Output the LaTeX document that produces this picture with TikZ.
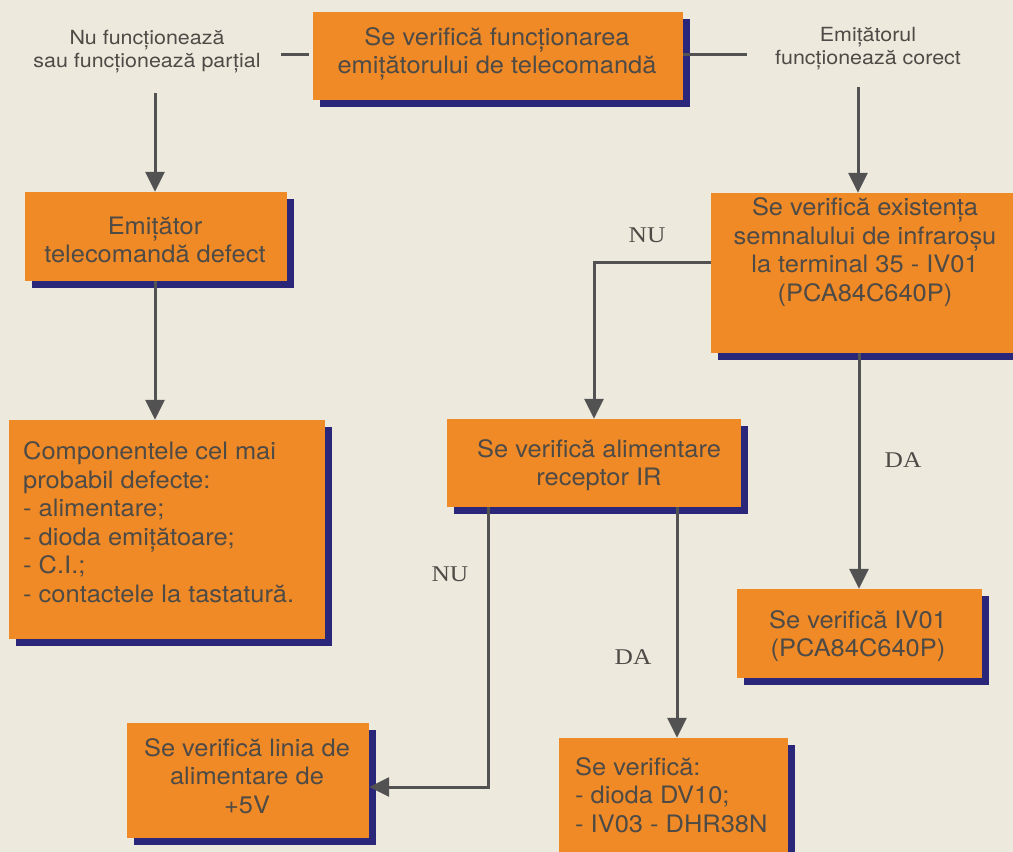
\documentclass[tikz,border=0pt]{standalone}
\usepackage{fontspec}
\setmainfont{TeX Gyre Heros}[FakeStretch=1.06]
\newfontfamily\lblfont{TeX Gyre Heros}[FakeStretch=1.1]
\newfontfamily\serifnu{Liberation Serif}[FakeStretch=1.13]
\usetikzlibrary{arrows.meta,shadows}
\definecolor{bgcream}{RGB}{237,233,221}
\definecolor{boxorange}{RGB}{239,138,38}
\definecolor{shadownavy}{RGB}{42,38,122}
\definecolor{txtgray}{RGB}{78,74,70}
\definecolor{linegray}{RGB}{82,82,82}
\begin{document}
\begin{tikzpicture}[x=1pt,y=-1pt,
  box/.style={fill=boxorange, draw=none, inner sep=0pt,
    drop shadow={shadow xshift=7pt,shadow yshift=-7pt,fill=shadownavy,opacity=1}},
  btext/.style={text=txtgray, font=\fontsize{24}{28.5}\selectfont, inner sep=0pt},
  lbl/.style={text=txtgray, font=\lblfont\fontsize{19.5}{23}\selectfont, align=center, inner sep=0pt},
  yn/.style={text=txtgray, font=\serifnu\fontsize{22.5}{26}\selectfont, inner sep=0pt},
  conn/.style={draw=linegray, line width=3pt},
  arr/.style={conn, -{Triangle[width=19pt,length=20pt]}},
]
\fill[bgcream] (0,0) rectangle (1013,852);
\useasboundingbox (0,0) rectangle (1013,852);

% boxes
\node[box, minimum width=370pt, minimum height=88pt] (top) at (498,56) {};
\node[box, minimum width=262pt, minimum height=89pt] (emit) at (156,236.5) {};
\node[box, minimum width=316pt, minimum height=219pt] (comp) at (167,529.5) {};
\node[box, minimum width=308pt, minimum height=160pt] (exist) at (865,273) {};
\node[box, minimum width=294pt, minimum height=88pt] (recv) at (594,463) {};
\node[box, minimum width=245pt, minimum height=89pt] (ivbox) at (859.5,633.5) {};
\node[box, minimum width=242pt, minimum height=115pt] (linia) at (248,780.5) {};
\node[box, minimum width=229pt, minimum height=132pt] (dvbox) at (673.5,804) {};

% box texts
\node[btext, align=center] (topt) at (497,54) {Se verifică funcționarea\\emițătorului de telecomandă};
\node[btext, align=center] (emitt) at (155,240) {Emițător\\telecomandă defect};
\node[btext, align=left, anchor=west] (compt) at (23,522) {Componentele cel mai\\probabil defecte:\\- alimentare;\\- dioda emițătoare;\\- C.I.;\\- contactele la tastatură.};
\node[btext, align=center] (existt) at (865,252) {Se verifică existența\\semnalului de infraroșu\\la terminal 35 - IV01\\(PCA84C640P)};
\node[btext, align=center] (recvt) at (599,465) {Se verifică alimentare\\receptor IR};
\node[btext, align=center] (ivt) at (858,636) {Se verifică IV01\\(PCA84C640P)};
\node[btext, align=center] (liniat) at (247,776) {Se verifică linia de\\alimentare de\\+5V};
\node[btext, align=left, anchor=west] (dvt) at (575,795) {Se verifică:\\- dioda DV10;\\- IV03 - DHR38N};

% side labels
\node[lbl] (nu) at (147,52) {Nu funcționează\\sau funcționează parțial};
\node[lbl] (ok) at (868,49) {Emițătorul\\funcționează corect};

% yes / no labels
\node[yn] (nu1) at (647,235) {NU};
\node[yn] (da1) at (903,460) {DA};
\node[yn] (nu2) at (450,574) {NU};
\node[yn] (da2) at (633,657) {DA};

% free ends
\coordinate (nuL) at (281,54);
\coordinate (okR) at (747,54);
\coordinate (nuD) at (155,93);
\coordinate (okD) at (858,87);

% connectors
\draw[conn] ([xshift=-4pt,yshift=2pt]top.west) -- (nuL);
\draw[conn] ([yshift=2pt]top.east) -- (okR);
\draw[arr] (nuD) -- (nuD |- emit.north);
\draw[arr] (okD) -- (okD |- exist.north);
\draw[arr] ([xshift=-1pt]emit.south) -- ([xshift=-1pt]emit.south |- comp.north);
\draw[arr] ([yshift=11pt]exist.west) -| (recv.north);
\draw[arr] ([xshift=-6pt]exist.south) -- ([xshift=-6pt]exist.south |- ivbox.north);
\draw[arr] ([xshift=-106pt]recv.south) |- ([yshift=-6.5pt]linia.east);
\draw[arr] ([xshift=83pt]recv.south) -- ([xshift=83pt]recv.south |- dvbox.north);
\end{tikzpicture}
\end{document}
